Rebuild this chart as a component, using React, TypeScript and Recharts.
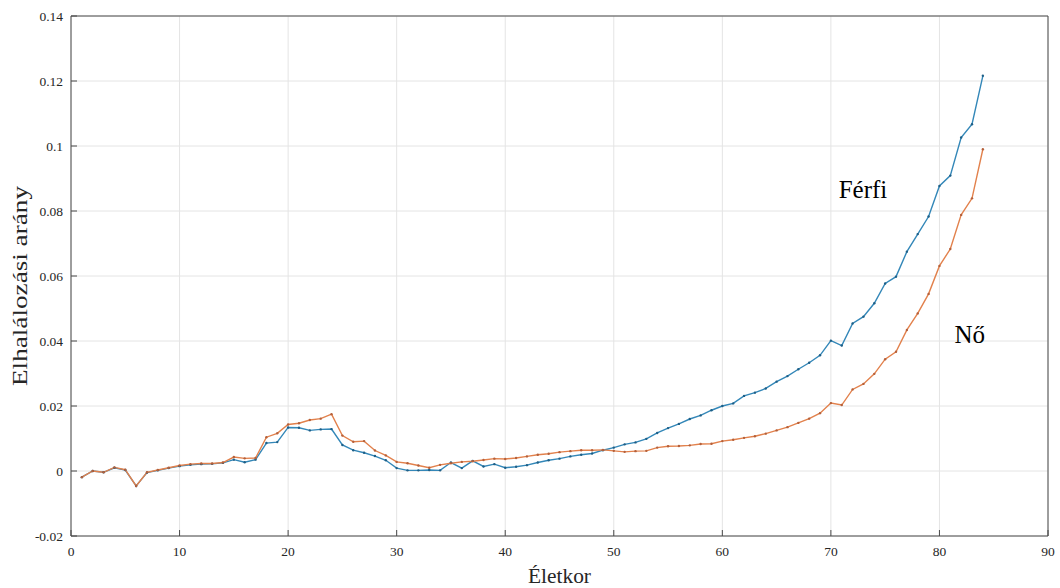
import React from 'react';
import { LineChart, Line, XAxis, YAxis, CartesianGrid, ReferenceDot } from 'recharts';

// Életkor (years)
const ages = [
  1, 2, 3, 4, 5, 6, 7, 8, 9, 10, 11, 12, 13, 14, 15, 16, 17, 18, 19, 20,
  21, 22, 23, 24, 25, 26, 27, 28, 29, 30, 31, 32, 33, 34, 35, 36, 37, 38, 39, 40,
  41, 42, 43, 44, 45, 46, 47, 48, 49, 50, 51, 52, 53, 54, 55, 56, 57, 58, 59, 60,
  61, 62, 63, 64, 65, 66, 67, 68, 69, 70, 71, 72, 73, 74, 75, 76, 77, 78, 79, 80,
  81, 82, 83, 84,
];

// Elhalálozási arány – Férfi
const ferfi = [
  -0.0019, 0.0, -0.0004, 0.001, 0.0003, -0.0046, -0.0005, 0.0002, 0.0009, 0.0015,
  0.0019, 0.0021, 0.0022, 0.0025, 0.0035, 0.0027, 0.0035, 0.0086, 0.0089, 0.0134,
  0.0133, 0.0125, 0.0128, 0.0129, 0.008, 0.0064, 0.0056, 0.0046, 0.0033, 0.0009,
  0.0002, 0.0002, 0.0003, 0.0002, 0.0026, 0.0009, 0.0031, 0.0014, 0.0021, 0.001,
  0.0013, 0.0018, 0.0026, 0.0033, 0.0038, 0.0045, 0.005, 0.0054, 0.0064, 0.0072,
  0.0082, 0.0088, 0.0099, 0.0117, 0.0132, 0.0145, 0.016, 0.0171, 0.0187, 0.02,
  0.0208, 0.0231, 0.0241, 0.0254, 0.0275, 0.0292, 0.0313, 0.0333, 0.0356, 0.0401,
  0.0386, 0.0454, 0.0475, 0.0516, 0.0577, 0.0598, 0.0675, 0.0729, 0.0783, 0.0877,
  0.0909, 0.1026, 0.1067, 0.1216,
];

// Elhalálozási arány – Nő
const no = [
  -0.0019, 0.0, -0.0004, 0.0011, 0.0004, -0.0046, -0.0004, 0.0003, 0.001, 0.0017,
  0.0021, 0.0023, 0.0023, 0.0026, 0.0043, 0.0039, 0.004, 0.0104, 0.0116, 0.0143,
  0.0147, 0.0157, 0.0161, 0.0175, 0.0109, 0.009, 0.0092, 0.0063, 0.0048, 0.0028,
  0.0024, 0.0017, 0.001, 0.0019, 0.0024, 0.0028, 0.003, 0.0034, 0.0038, 0.0037,
  0.004, 0.0045, 0.005, 0.0053, 0.0058, 0.0061, 0.0064, 0.0064, 0.0065, 0.0062,
  0.0059, 0.0061, 0.0062, 0.0072, 0.0076, 0.0077, 0.0079, 0.0083, 0.0084, 0.0092,
  0.0096, 0.0102, 0.0107, 0.0115, 0.0125, 0.0135, 0.0148, 0.0161, 0.0178, 0.0209,
  0.0203, 0.0251, 0.0268, 0.0299, 0.0344, 0.0367, 0.0434, 0.0485, 0.0545, 0.0631,
  0.0683, 0.0788, 0.0839, 0.099,
];

const xTicks = [0, 10, 20, 30, 40, 50, 60, 70, 80, 90];
const xTickLabels = ['0', '10', '20', '30', '40', '50', '60', '70', '80', '90'];
const yTicks = [-0.02, 0, 0.02, 0.04, 0.06, 0.08, 0.1, 0.12, 0.14];
const yTickLabels = ['-0.02', '0', '0.02', '0.04', '0.06', '0.08', '0.1', '0.12', '0.14'];

const seriesNames = ['Férfi', 'Nő'];
// where the in-plot series names sit, in data units
const nameAnchors = [
  { x: 72.96, y: 0.0868 },
  { x: 82.8, y: 0.0422 },
];
const xTitle = 'Életkor';
const yTitle = 'Elhalálozási arány';

const data = ages.map((age, i) => ({ age, ferfi: ferfi[i], no: no[i] }));

const FONT = "'Liberation Serif', 'Times New Roman', serif";
const AXIS = '#4a4a4a';
const TEXT = '#262626';
const GRID = '#e4e4e4';
const BLUE = '#3387b8';
const ORANGE = '#e2814c';

const tickStyle = { fontFamily: FONT, fontSize: 13.5, fill: TEXT };

const XTitle = (props: any) => {
  const vb = props.viewBox || { x: 71, y: 536, width: 977, height: 52 };
  const cx = vb.x + vb.width / 2;
  return (
    <text
      x={cx}
      y={vb.y + 47}
      textAnchor="middle"
      style={{ fontFamily: FONT }}
      fontSize={22}
      fill={TEXT}
      textLength={63}
      lengthAdjust="spacingAndGlyphs"
    >
      {xTitle}
    </text>
  );
};

const YTitle = (props: any) => {
  const vb = props.viewBox || { x: 0, y: 16, width: 71, height: 520 };
  const x = vb.x + vb.width - 44;
  const y = vb.y + vb.height / 2 + 10;
  return (
    <text
      x={x}
      y={y}
      transform={`rotate(-90 ${x} ${y})`}
      textAnchor="middle"
      style={{ fontFamily: FONT }}
      fontSize={21}
      fill={TEXT}
      textLength={200}
      lengthAdjust="spacingAndGlyphs"
    >
      {yTitle}
    </text>
  );
};

export default function App() {
  return (
    <div
      style={{
        position: 'absolute',
        left: 0,
        top: 0,
        width: 1060,
        height: 588,
        background: '#fff',
        fontFamily: FONT,
      }}
    >
      <LineChart
        width={1060}
        height={588}
        data={data}
        margin={{ top: 0, right: 0, bottom: 0, left: 0 }}
        style={{ fontFamily: FONT }}
      >
        <CartesianGrid stroke={GRID} strokeWidth={1} />
        <XAxis
          dataKey="age"
          type="number"
          domain={[0, 90]}
          ticks={xTicks}
          interval={0}
          height={52}
          tickSize={-6}
          tickMargin={16}
          axisLine={{ stroke: AXIS }}
          tickLine={{ stroke: AXIS }}
          tick={tickStyle}
          tickFormatter={(v: number) => xTickLabels[xTicks.indexOf(v)] ?? String(v)}
          label={{ content: XTitle }}
        />
        <XAxis
          xAxisId="top"
          orientation="top"
          dataKey="age"
          type="number"
          domain={[0, 90]}
          ticks={xTicks}
          interval={0}
          height={16}
          tickSize={-6}
          axisLine={{ stroke: AXIS }}
          tickLine={{ stroke: AXIS }}
          tick={false}
        />
        <YAxis
          type="number"
          domain={[-0.02, 0.14]}
          ticks={yTicks}
          interval={0}
          width={71}
          tickSize={-6}
          tickMargin={14}
          axisLine={{ stroke: AXIS }}
          tickLine={{ stroke: AXIS }}
          tick={tickStyle}
          tickFormatter={(v: number) => yTickLabels[yTicks.indexOf(v)] ?? String(v)}
          label={{ content: YTitle }}
        />
        <YAxis
          yAxisId="right"
          orientation="right"
          type="number"
          domain={[-0.02, 0.14]}
          ticks={yTicks}
          interval={0}
          width={12}
          tickSize={-6}
          axisLine={{ stroke: AXIS }}
          tickLine={{ stroke: AXIS }}
          tick={false}
        />
        <Line
          dataKey="ferfi"
          name={seriesNames[0]}
          stroke={BLUE}
          strokeWidth={1.4}
          dot={{ r: 1.2, fill: '#1e5f87', stroke: 'none' }}
          activeDot={false}
          isAnimationActive={false}
        />
        <Line
          dataKey="no"
          name={seriesNames[1]}
          stroke={ORANGE}
          strokeWidth={1.4}
          dot={{ r: 1.2, fill: '#b5603a', stroke: 'none' }}
          activeDot={false}
          isAnimationActive={false}
        />
        {seriesNames.map((name, i) => (
          <ReferenceDot
            key={name}
            x={nameAnchors[i].x}
            y={nameAnchors[i].y}
            r={0}
            fill="none"
            stroke="none"
            label={{
              value: name,
              position: 'center',
              style: { fontFamily: FONT },
              fontSize: 25,
              fill: '#000',
            }}
          />
        ))}
      </LineChart>
    </div>
  );
}
